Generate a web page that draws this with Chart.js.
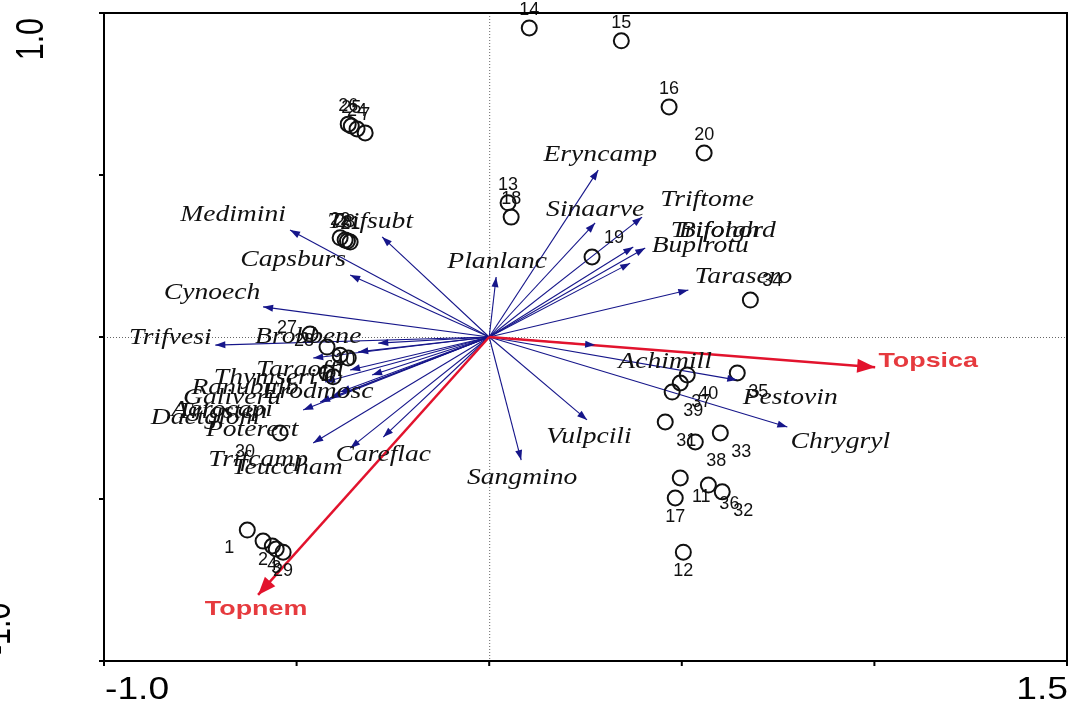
<!DOCTYPE html>
<html>
<head>
<meta charset="utf-8">
<script src="https://cdn.jsdelivr.net/npm/chart.js@4.4.1/dist/chart.umd.min.js"></script>
<style>
  html, body { margin: 0; padding: 0; background: #fff; }
  #wrap { width: 1074px; height: 708px; }
</style>
</head>
<body>
<div id="wrap"><canvas id="ordChart" width="1074" height="708"></canvas></div>
<script>
// site scores (axis 1 / axis 2)
const siteIds = ['14','15','16','20','13','18','19','34','26','25','24','7','22','23','8','21','27','28','9','10','5','6','30','1','2','4','3','29','40','37','39','35','31','38','33','11','17','36','32','12'];
const siteX = [0.104,0.343,0.467,0.558,0.049,0.057,0.267,0.678,-0.366,-0.358,-0.343,-0.322,-0.387,-0.374,-0.368,-0.361,-0.465,-0.421,-0.387,-0.366,-0.421,-0.405,-0.543,-0.628,-0.587,-0.563,-0.553,-0.535,0.514,0.496,0.475,0.644,0.457,0.535,0.600,0.496,0.483,0.569,0.605,0.504];
const siteY = [0.954,0.914,0.710,0.568,0.414,0.370,0.247,0.114,0.657,0.651,0.642,0.630,0.306,0.299,0.296,0.293,0.009,-0.031,-0.056,-0.065,-0.111,-0.123,-0.296,-0.596,-0.630,-0.645,-0.654,-0.664,-0.117,-0.142,-0.170,-0.111,-0.262,-0.324,-0.296,-0.435,-0.497,-0.457,-0.478,-0.664];

// species arrows (tips)
const speciesNames = ['Eryncamp','Sinaarve','Triftome','Trifoigh','Bifohord','Buplrotu','Tarasero','Planlanc','Trifsubt','Medimini','Capsburs','Cynoech','Trifvesi','Brobbene','Taraoffi','Thymseri','Ranubulb','Erodmosc','Galiveru','Agrocapi','Trigsten','Dactglom','Poterect','Trifcamp','Teuccham','Careflac','Achimill','Pestovin','Chrygryl','Vulpcili','Sangmino'];
const speciesX = [0.283,0.275,0.397,0.374,0.405,0.366,0.517,0.018,-0.278,-0.517,-0.361,-0.587,-0.711,-0.288,-0.340,-0.457,-0.361,-0.304,-0.426,-0.413,-0.439,-0.387,-0.483,-0.457,-0.361,-0.275,0.275,0.644,0.774,0.254,0.083];
const speciesY = [0.515,0.352,0.370,0.278,0.275,0.228,0.145,0.185,0.309,0.330,0.191,0.093,-0.025,-0.019,-0.046,-0.065,-0.102,-0.117,-0.139,-0.188,-0.201,-0.170,-0.225,-0.327,-0.343,-0.309,-0.025,-0.133,-0.278,-0.256,-0.380];

// environmental variables
const envNames = ['Topsica','Topnem'];
const envX = [1.002,-0.600];
const envY = [-0.093,-0.796];

// axis ticks and the labels shown
const xTickValues = [-1.0,-0.5,0,0.5,1.0,1.5];
const yTickValues = [1.0,0.5,0,-0.5,-1.0];
const xTickLabels = {'-1': '-1.0', '1.5': '1.5'};
const yTickLabels = {'1': '1.0', '-1': '-1.0'};

// label placement (pixels from the point / tip)
const sitePos = ['n','n','n','n','n','n','ne','ne','n','n','n','n','n','n','n','n','w','w','c','c','c','c','sw2','sw','s','s','s','s','se','se','se','se','se','se','se','se','s','se','se','s'];
const posOff = { n:[0,-18], ne:[22,-19], se:[21,19], s:[0,19], sw:[-18,18], sw2:[-35,19], w:[-23,-6], c:[-3,2] };
const speciesOff = [[2,-15],[0,-13],[65,-17],[82,-16],[82,-17],[70,-17],[55,-13],[1,-15],[-12,-15],[-57,-15],[-57,-15],[-51,-14],[-45,-7],[-70,-6],[-58,18],[-48,20],[-105,18],[-54,17],[-93,16],[-108,12],[-98,10],[-135,26],[-51,20],[-55,17],[-63,20],[0,18],[70,17],[53,18],[53,15],[2,17],[1,18]];
const envOff = [[53,-6],[-2,14]];

const BLUE = '#16168a';
const RED = '#e2132d';

function arrowHead(ctx, x0, y0, x1, y1, len, half) {
  const a = Math.atan2(y1 - y0, x1 - x0);
  const c = Math.cos(a), s = Math.sin(a);
  ctx.beginPath();
  ctx.moveTo(x1, y1);
  ctx.lineTo(x1 - len * c + half * s, y1 - len * s - half * c);
  ctx.lineTo(x1 - len * c - half * s, y1 - len * s + half * c);
  ctx.closePath();
  ctx.fill();
}

// text stretched horizontally like the original export
function wideText(ctx, txt, x, y, sx) {
  ctx.save();
  ctx.translate(x, y);
  ctx.scale(sx, 1);
  ctx.fillText(txt, 0, 0);
  ctx.restore();
}

const biplotDecor = {
  id: 'biplotDecor',
  beforeDatasetsDraw(chart) {
    const { ctx, chartArea: ca, scales: { x, y } } = chart;
    ctx.save();
    ctx.strokeStyle = '#666';
    ctx.lineWidth = 1;
    ctx.setLineDash([1, 2]);
    ctx.beginPath();
    ctx.moveTo(x.getPixelForValue(0) + 0.5, ca.top);
    ctx.lineTo(x.getPixelForValue(0) + 0.5, ca.bottom);
    ctx.moveTo(ca.left, y.getPixelForValue(0) + 0.5);
    ctx.lineTo(ca.right, y.getPixelForValue(0) + 0.5);
    ctx.stroke();
    ctx.restore();
  },
  afterDatasetsDraw(chart) {
    const { ctx, chartArea: ca, scales: { x, y } } = chart;
    ctx.save();

    // arrow heads from the line datasets
    chart.data.datasets.forEach((ds, i) => {
      if (!ds.arrow) return;
      const pts = chart.getDatasetMeta(i).data;
      ctx.fillStyle = ds.borderColor;
      if (ds.arrow === 'env') arrowHead(ctx, pts[0].x, pts[0].y, pts[1].x, pts[1].y, 18, 7);
      else arrowHead(ctx, pts[0].x, pts[0].y, pts[1].x, pts[1].y, 10, 3.5);
    });

    // species labels
    ctx.textAlign = 'center';
    ctx.textBaseline = 'middle';
    ctx.fillStyle = '#111';
    ctx.font = 'italic 23px "Liberation Serif", "DejaVu Serif", serif';
    speciesNames.forEach((n, i) => {
      wideText(ctx, n, x.getPixelForValue(speciesX[i]) + speciesOff[i][0], y.getPixelForValue(speciesY[i]) + speciesOff[i][1], 1.2);
    });

    // env labels
    ctx.fillStyle = '#e63a3e';
    ctx.font = 'bold 21px "Liberation Sans", Arial, sans-serif';
    envNames.forEach((n, i) => {
      wideText(ctx, n, x.getPixelForValue(envX[i]) + envOff[i][0], y.getPixelForValue(envY[i]) + envOff[i][1], 1.28);
    });

    // site labels
    ctx.fillStyle = '#111';
    ctx.font = '18px "Liberation Sans", Arial, sans-serif';
    siteIds.forEach((id, i) => {
      const o = posOff[sitePos[i]];
      ctx.fillText(id, x.getPixelForValue(siteX[i]) + o[0], y.getPixelForValue(siteY[i]) + o[1]);
    });

    // frame + ticks
    ctx.strokeStyle = '#000';
    ctx.lineWidth = 2;
    ctx.strokeRect(ca.left, ca.top, ca.right - ca.left, ca.bottom - ca.top);
    ctx.beginPath();
    xTickValues.forEach(v => {
      const px = x.getPixelForValue(v);
      ctx.moveTo(px, ca.bottom);
      ctx.lineTo(px, ca.bottom + 5);
    });
    yTickValues.forEach(v => {
      const py = y.getPixelForValue(v);
      ctx.moveTo(ca.left - 5, py);
      ctx.lineTo(ca.left + 1, py);
    });
    ctx.stroke();

    // tick labels
    ctx.fillStyle = '#000';
    ctx.font = '31px "Liberation Sans", Arial, sans-serif';
    ctx.textBaseline = 'middle';
    Object.keys(xTickLabels).forEach(k => {
      const v = Number(k);
      ctx.textAlign = v === x.min ? 'left' : 'right';
      wideText(ctx, xTickLabels[k], x.getPixelForValue(v) + 1, ca.bottom + 29, 1.2);
    });
    ctx.font = '38px "Liberation Sans", Arial, sans-serif';
    Object.keys(yTickLabels).forEach(k => {
      const v = Number(k);
      const top = v === y.max;
      ctx.save();
      const py = y.getPixelForValue(v);
      ctx.translate(top ? 33 : 0, top ? py + 5 : py - 6);
      ctx.rotate(-Math.PI / 2);
      ctx.scale(0.8, 1);
      ctx.textBaseline = 'middle';
      ctx.textAlign = top ? 'right' : 'left';
      ctx.fillText(yTickLabels[k], 0, 0);
      ctx.restore();
    });
    ctx.restore();
  }
};

const datasets = [{
  label: 'sites',
  data: siteX.map((v, i) => ({ x: v, y: siteY[i] })),
  pointStyle: 'circle',
  pointRadius: 7.5,
  borderColor: '#111',
  backgroundColor: 'rgba(0,0,0,0)',
  borderWidth: 2,
  order: 0,
}];
envNames.forEach((n, i) => datasets.push({
  label: n,
  data: [{ x: 0, y: 0 }, { x: envX[i], y: envY[i] }],
  showLine: true, pointRadius: 0, borderColor: RED, borderWidth: 2.5, arrow: 'env', order: 1,
}));
speciesNames.forEach((n, i) => datasets.push({
  label: n,
  data: [{ x: 0, y: 0 }, { x: speciesX[i], y: speciesY[i] }],
  showLine: true, pointRadius: 0, borderColor: BLUE, borderWidth: 1.1, arrow: 'spec', order: 2,
}));

new Chart(document.getElementById('ordChart'), {
  type: 'scatter',
  data: { datasets },
  options: {
    responsive: false,
    animation: false,
    layout: { autoPadding: false, padding: { left: 104, right: 7, top: 13, bottom: 47 } },
    scales: {
      x: { type: 'linear', min: -1.0, max: 1.5, display: false },
      y: { type: 'linear', min: -1.0, max: 1.0, display: false },
    },
    plugins: { legend: { display: false }, tooltip: { enabled: false } },
  },
  plugins: [biplotDecor],
});
</script>
</body>
</html>
